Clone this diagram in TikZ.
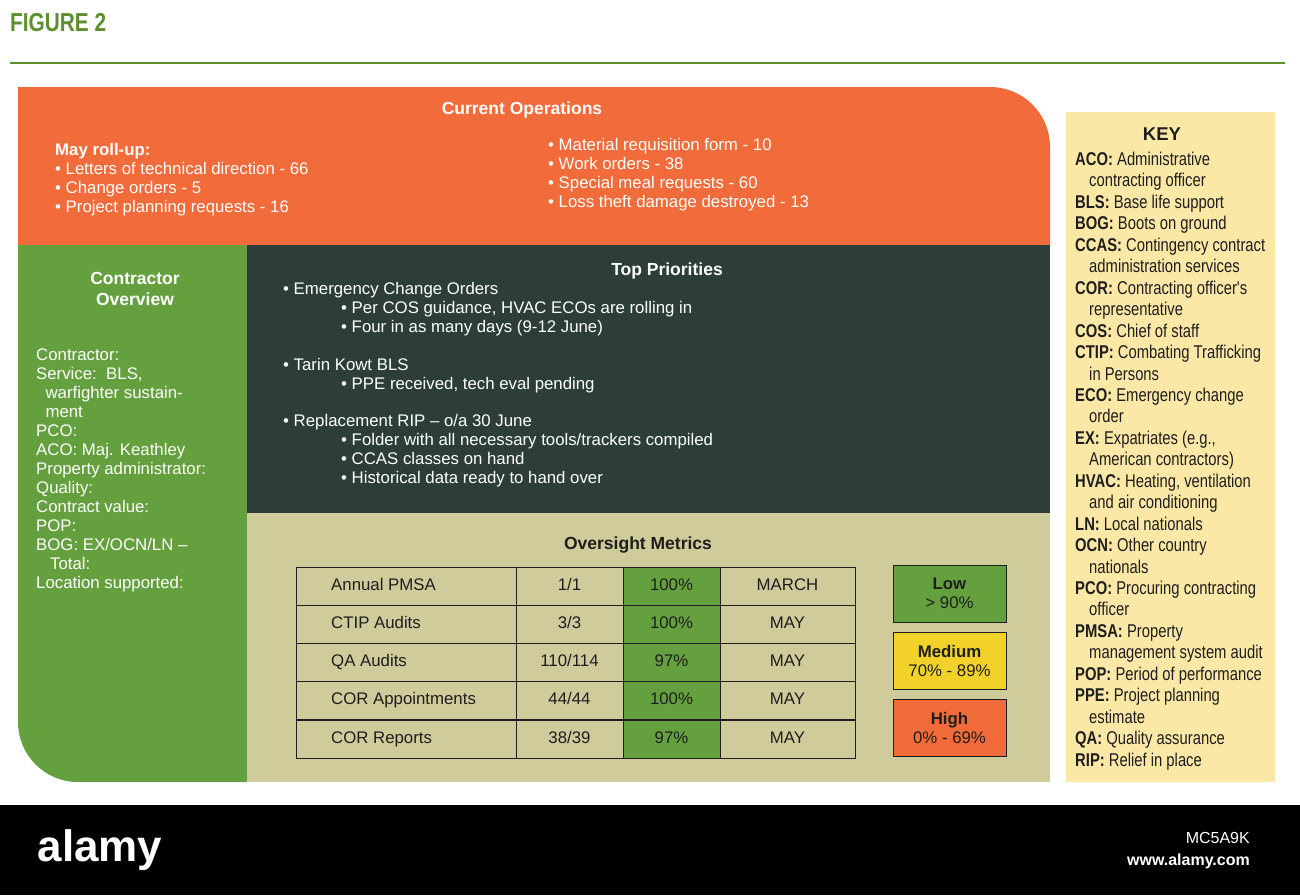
\documentclass[tikz,border=0pt]{standalone}
\usepackage{fontspec}
\setmainfont{Liberation Sans}
\newfontfamily\keyfont[FakeStretch=0.8]{Liberation Sans}
\definecolor{figgreen}{HTML}{5E8F2E}
\definecolor{orng}{HTML}{F26B3A}
\definecolor{grn}{HTML}{64A03E}
\definecolor{dark}{HTML}{2C3D3A}
\definecolor{khaki}{HTML}{CFCB9B}
\definecolor{keybg}{HTML}{FBE8A6}
\definecolor{yel}{HTML}{F2D22A}
\definecolor{txt}{HTML}{1E1E1E}
\tikzset{
 wt/.style={anchor=west,text=white,font=\fontsize{16.8}{19}\selectfont,inner sep=0pt,text height=12pt,text depth=3.5pt},
 hd/.style={text=white,font=\bfseries\fontsize{17.5}{21}\selectfont,inner sep=0pt,align=center},
 cell/.style={draw=txt,line width=1pt,minimum height=38pt,inner sep=0pt,font=\fontsize{16.8}{19}\selectfont,text=txt,text height=12pt,text depth=3.5pt},
 kl/.style={anchor=west,inner sep=0pt,text=txt,font=\keyfont\fontsize{18.5}{20}\selectfont,text height=13pt,text depth=4pt},
 lg/.style={draw=txt,line width=1pt,minimum width=113pt,minimum height=57pt,inner sep=0pt,align=center,font=\fontsize{16.8}{19}\selectfont,text=txt}
}
\begin{document}
\begin{tikzpicture}[x=1pt,y=-1pt]
\useasboundingbox (0,0) rectangle (1300,895);
\fill[white] (0,0) rectangle (1300,895);
\node[anchor=west,text=figgreen,font=\bfseries\keyfont\fontsize{26}{28}\selectfont,inner sep=0pt] (fig) at (10,23) {FIGURE 2};
\draw[figgreen,line width=1.5pt] (10,63) -- (1285,63);
% panels
\fill[orng] (18,245) -- (18,87) -- (990,87) arc[start angle=270,end angle=360,radius=60] -- (1050,245) -- cycle;
\fill[grn] (18,245) -- (18,722) arc[start angle=180,end angle=90,radius=60] -- (247,782) -- (247,245) -- cycle;
\fill[dark] (247,245) rectangle (1050,513);
\fill[khaki] (247,513) rectangle (1050,782);
\fill[keybg] (1066,112) rectangle (1275,782);
% current operations
\node[hd] (co) at (522,110) {Current Operations};
\node[wt,font=\bfseries\fontsize{16.8}{19}\selectfont] (may) at (55,151) {May roll-up:};
\node[wt] (c1) at (55,170) {\textbullet\ Letters of technical direction - 66};
\node[wt] (c2) at (55,189) {\textbullet\ Change orders - 5};
\node[wt] (c3) at (55,208) {\textbullet\ Project planning requests - 16};
\node[wt] (c4) at (548,146) {\textbullet\ Material requisition form - 10};
\node[wt] (c5) at (548,165) {\textbullet\ Work orders - 38};
\node[wt] (c6) at (548,184) {\textbullet\ Special meal requests - 60};
\node[wt] (c7) at (548,203) {\textbullet\ Loss theft damage destroyed - 13};
% contractor overview
\node[hd] (cov) at (135,289) {Contractor\\Overview};
\node[wt,anchor=north west,align=left,text height=,text depth=] (clist) at (36,349) {Contractor:\\Service:\ \ BLS,\\\ \ warfighter sustain-\\\ \ ment\\PCO:\\ACO: Maj. Keathley\\Property administrator:\\Quality:\\Contract value:\\POP:\\BOG: EX/OCN/LN --\\\ \ \ Total:\\Location supported:};
% top priorities
\node[hd] (tp) at (667,271) {Top Priorities};
\node[wt] (p1) at (283,290) {\textbullet\ Emergency Change Orders};
\node[wt] (p2) at (341,309) {\textbullet\ Per COS guidance, HVAC ECOs are rolling in};
\node[wt] (p3) at (341,328) {\textbullet\ Four in as many days (9-12 June)};
\node[wt] (p4) at (283,366) {\textbullet\ Tarin Kowt BLS};
\node[wt] (p5) at (341,385) {\textbullet\ PPE received, tech eval pending};
\node[wt] (p6) at (283,422) {\textbullet\ Replacement RIP -- o/a 30 June};
\node[wt] (p7) at (341,441) {\textbullet\ Folder with all necessary tools/trackers compiled};
\node[wt] (p8) at (341,460) {\textbullet\ CCAS classes on hand};
\node[wt] (p9) at (341,479) {\textbullet\ Historical data ready to hand over};
% oversight metrics
\node[hd,text=txt] (om) at (638,545) {Oversight Metrics};
\foreach \r/\a/\b/\c/\d/\yy in {1/Annual PMSA/1\slash 1/100\%/MARCH/586,2/CTIP Audits/3\slash 3/100\%/MAY/624,3/QA Audits/110\slash 114/97\%/MAY/662,4/COR Appointments/44\slash 44/100\%/MAY/700,5/COR Reports/38\slash 39/97\%/MAY/739}{
 \node[cell,minimum width=220pt] (a\r) at (406,\yy) {};
 \node[wt,text=txt] at (331,\yy) {\a};
 \node[cell,minimum width=107pt] (b\r) at (569.5,\yy) {\b};
 \node[cell,minimum width=97pt,fill=grn] (g\r) at (671.5,\yy) {\c};
 \node[cell,minimum width=135pt] (d\r) at (787.5,\yy) {\d};
}
\node[lg,fill=grn] (low) at (949.5,593.5) {\textbf{Low}\\> 90\%};
\node[lg,fill=yel] (med) at (949.5,660.5) {\textbf{Medium}\\70\% - 89\%};
\node[lg,fill=orng] (high) at (949.5,727.5) {\textbf{High}\\0\% - 69\%};
% key
\node[inner sep=0pt,text=txt,font=\bfseries\fontsize{18.5}{21}\selectfont] (key) at (1162,134) {KEY};
\foreach \t [count=\i] in {{\textbf{ACO:} Administrative},{\hspace{14pt}contracting officer},{\textbf{BLS:} Base life support},{\textbf{BOG:} Boots on ground},{\textbf{CCAS:} Contingency contract},{\hspace{14pt}administration services},{\textbf{COR:} Contracting officer's},{\hspace{14pt}representative},{\textbf{COS:} Chief of staff},{\textbf{CTIP:} Combating Trafficking},{\hspace{14pt}in Persons},{\textbf{ECO:} Emergency change},{\hspace{14pt}order},{\textbf{EX:} Expatriates (e.g.,},{\hspace{14pt}American contractors)},{\textbf{HVAC:} Heating, ventilation},{\hspace{14pt}and air conditioning},{\textbf{LN:} Local nationals},{\textbf{OCN:} Other country},{\hspace{14pt}nationals},{\textbf{PCO:} Procuring contracting},{\hspace{14pt}officer},{\textbf{PMSA:} Property},{\hspace{14pt}management system audit},{\textbf{POP:} Period of performance},{\textbf{PPE:} Project planning},{\hspace{14pt}estimate},{\textbf{QA:} Quality assurance},{\textbf{RIP:} Relief in place}}{
 \node[kl] (k\i) at (1075,{161+21.45*(\i-1)}) {\t};
}
% bottom bar
\fill[black] (0,805) rectangle (1300,895);
\node[text=white,font=\bfseries\fontsize{44}{48}\selectfont,inner sep=0pt] (al) at (100,850) {alamy};
\node[anchor=east,text=white,font=\fontsize{16}{19}\selectfont,inner sep=0pt] (id) at (1250,838) {MC5A9K};
\node[anchor=east,text=white,font=\bfseries\fontsize{16}{19}\selectfont,inner sep=0pt] (url) at (1250,861) {www.alamy.com};
\end{tikzpicture}
\end{document}
